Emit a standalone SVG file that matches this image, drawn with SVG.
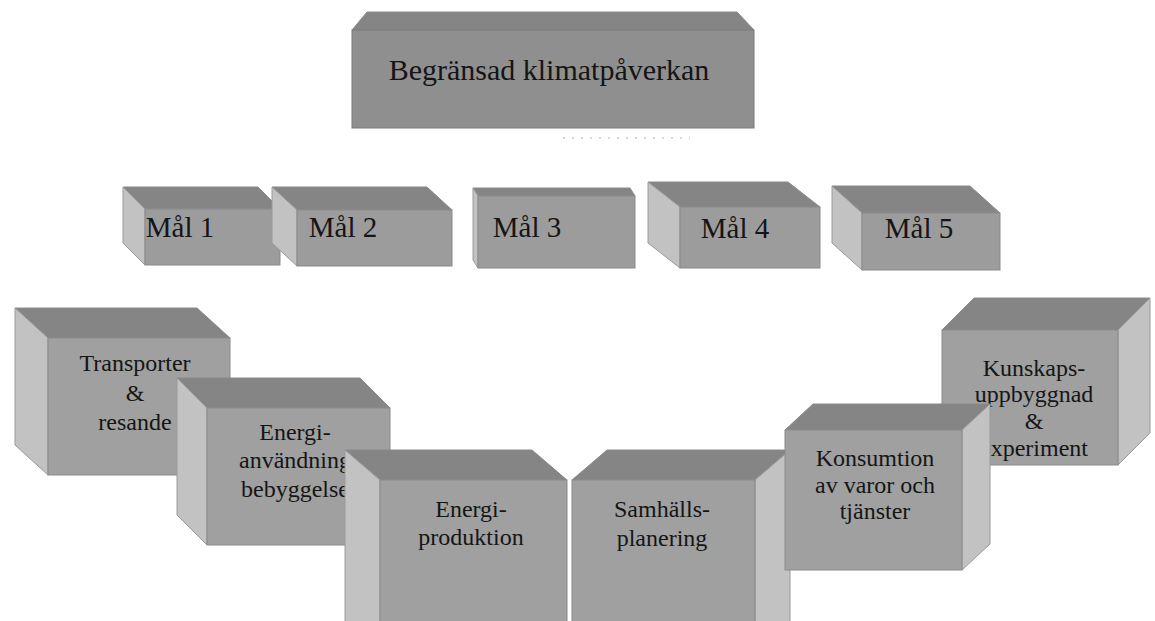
<svg xmlns="http://www.w3.org/2000/svg" width="1155" height="621" viewBox="0 0 1155 621">
<style>
.front{fill:#a0a0a0;stroke:#8a8a8a;stroke-width:1}
.top{fill:#858585;stroke:#8a8a8a;stroke-width:1}
.side{fill:#c2c2c2;stroke:#9a9a9a;stroke-width:1}
.mfront{fill:#9c9c9c;stroke:#8a8a8a;stroke-width:1}
.tfront{fill:#8f8f8f;stroke:#7a7a7a;stroke-width:1}
.t{font-family:"Liberation Serif","Times New Roman",serif;fill:#151515;text-anchor:middle}
.big{font-size:30px}
.mal{font-size:29px}
.lbl{font-size:24px}
</style>
<rect width="1155" height="621" fill="#ffffff"/>

<g id="n-top">
<polygon class="top" points="352,30 754,30 737,12 367,12"/>
<rect class="tfront" x="352" y="30" width="402" height="98"/>
<text class="t big" x="549" y="80">Begränsad klimatpåverkan</text>
</g>
<line x1="563" y1="138" x2="690" y2="138" stroke="#aaaaaa" stroke-width="1" stroke-dasharray="2 7"/>

<g id="n-mal1">
<polygon class="top" points="145,209 280,209 258,187 123,187"/>
<polygon class="side" points="145,209 123,187 123,243 145,265"/>
<rect class="mfront" x="145" y="209" width="135" height="56"/>
<text class="t mal" x="180" y="237">Mål 1</text>
</g>
<g id="n-mal2">
<polygon class="top" points="297,210 452,210 427,187 272,187"/>
<polygon class="side" points="297,210 272,187 272,243 297,266"/>
<rect class="mfront" x="297" y="210" width="155" height="56"/>
<text class="t mal" x="343" y="237">Mål 2</text>
</g>
<g id="n-mal3">
<polygon class="top" points="478,196 635,196 630,188 473,188"/>
<polygon class="side" points="478,196 473,188 473,260 478,268"/>
<rect class="mfront" x="478" y="196" width="157" height="72"/>
<text class="t mal" x="527" y="237">Mål 3</text>
</g>
<g id="n-mal4">
<polygon class="top" points="680,207 820,207 788,182 648,182"/>
<polygon class="side" points="680,207 648,182 648,243 680,268"/>
<rect class="mfront" x="680" y="207" width="140" height="61"/>
<text class="t mal" x="735" y="238">Mål 4</text>
</g>
<g id="n-mal5">
<polygon class="top" points="862,213 1000,213 970,186 832,186"/>
<polygon class="side" points="862,213 832,186 832,243 862,270"/>
<rect class="mfront" x="862" y="213" width="138" height="57"/>
<text class="t mal" x="919" y="238">Mål 5</text>
</g>

<g id="n-transporter">
<polygon class="top" points="48,338 230,338 197,308 15,308"/>
<polygon class="side" points="48,338 15,308 15,445 48,475"/>
<rect class="front" x="48" y="338" width="182" height="137"/>
<text class="t lbl" x="135" y="371">Transporter</text>
<text class="t lbl" x="135" y="401">&amp;</text>
<text class="t lbl" x="135" y="430">resande</text>
</g>
<g id="n-energianvandning">
<polygon class="top" points="207,408 390,408 360,378 177,378"/>
<polygon class="side" points="207,408 177,378 177,515 207,545"/>
<rect class="front" x="207" y="408" width="183" height="137"/>
<text class="t lbl" x="295" y="440">Energi-</text>
<text class="t lbl" x="295" y="468">användning</text>
<text class="t lbl" x="295" y="497">bebyggelse</text>
</g>
<g id="n-energiproduktion">
<polygon class="top" points="380,480 567,480 532,450 345,450"/>
<polygon class="side" points="380,480 345,450 345,625 380,625"/>
<rect class="front" x="380" y="480" width="187" height="145"/>
<text class="t lbl" x="471" y="517">Energi-</text>
<text class="t lbl" x="471" y="545">produktion</text>
</g>

<g id="n-samhallsplanering">
<polygon class="top" points="572,480 755,480 790,450 607,450"/>
<polygon class="side" points="755,480 790,450 790,625 755,625"/>
<rect class="front" x="572" y="480" width="183" height="145"/>
<text class="t lbl" x="662" y="517">Samhälls-</text>
<text class="t lbl" x="662" y="546">planering</text>
</g>
<g id="n-kunskapsuppbyggnad">
<polygon class="top" points="942,330 1118,330 1150,298 974,298"/>
<polygon class="side" points="1118,330 1150,298 1150,433 1118,465"/>
<rect class="front" x="942" y="330" width="176" height="135"/>
<text class="t lbl" x="1034" y="376">Kunskaps-</text>
<text class="t lbl" x="1034" y="402">uppbyggnad</text>
<text class="t lbl" x="1034" y="429">&amp;</text>
<text class="t lbl" x="1034" y="456">experiment</text>
</g>
<g id="n-konsumtion">
<polygon class="top" points="785,430 962,430 990,404 813,404"/>
<polygon class="side" points="962,430 990,404 990,544 962,570"/>
<rect class="front" x="785" y="430" width="177" height="140"/>
<text class="t lbl" x="875" y="466">Konsumtion</text>
<text class="t lbl" x="875" y="493">av varor och</text>
<text class="t lbl" x="875" y="519">tjänster</text>
</g>

<g id="connectors"></g>
</svg>
